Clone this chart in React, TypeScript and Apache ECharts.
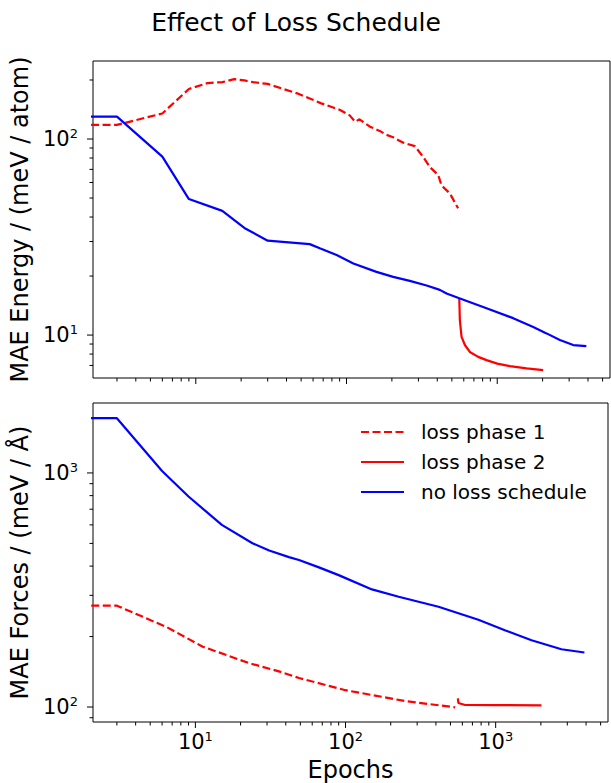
import React, { useEffect, useRef } from 'react';
import * as echarts from 'echarts';

const TITLE = 'Effect of Loss Schedule';
const SERIES_NAMES = ['loss phase 1', 'loss phase 2', 'no loss schedule'];
const X_NAME = 'Epochs';
const ENERGY_NAME = 'MAE Energy / (meV / atom)';
const FORCES_NAME = 'MAE Forces / (meV / Å)';

// Top panel: MAE Energy
const energyPhase1: [number, number][] = [
  [1, 118], [3, 118], [6, 135], [9, 180], [12, 193], [15, 195], [18, 202], [21, 199], [24, 195],
  [30, 191], [38, 180], [47, 171], [57, 161], [68, 152], [79, 146], [90, 141], [105, 132],
  [114, 122.5], [122, 126], [143, 115.6], [166, 110], [184, 105], [204, 102], [238, 95.8],
  [284, 92], [323, 81], [357, 72], [406, 65.5], [427, 58], [485, 52.8], [550, 44.3],
];
const energyPhase2: [number, number][] = [
  [560, 15.4], [565, 11.9], [580, 9.8], [610, 8.9], [658, 8.2], [748, 7.74], [849, 7.45],
  [1000, 7.15], [1213, 6.95], [1567, 6.76], [2018, 6.62],
];
const energyNoSchedule: [number, number][] = [
  [1, 130], [3, 130], [6, 81.3], [9, 49.4], [15, 43], [21, 35.2], [30, 30.3], [57, 29.1],
  [66.5, 27.7], [86, 25.6], [111, 23.2], [158, 21.0], [204, 19.8], [263, 18.9], [340, 17.9],
  [416, 17.0], [461, 16.3], [560, 15.4], [849, 13.7], [1276, 12.2], [1733, 11.0], [2124, 10.2],
  [2604, 9.43], [3193, 8.89], [3900, 8.79],
];

// Bottom panel: MAE Forces
const forcesPhase1: [number, number][] = [
  [1, 271], [3, 271], [6.4, 220], [11.2, 181], [22.8, 154], [36, 142], [49, 133], [100, 118],
  [250, 106], [537, 99.7],
];
const forcesPhase2: [number, number][] = [
  [560, 109], [565, 104], [626, 102], [1000, 101.9], [2018, 101.7],
];
const forcesNoSchedule: [number, number][] = [
  [1, 1714], [3, 1714], [6, 1020], [9, 793], [15, 600], [24, 501], [31, 466], [42, 437],
  [49, 425], [66.5, 395], [90, 366], [150, 318], [226, 296], [416, 268], [767, 236],
  [1151, 213], [1733, 193], [2742, 176.5], [3900, 171],
];

// Axis ranges and tick values
const X_MIN = 2.08;
const X_MAX = 5600;
const ENERGY_MIN = 6.04;
const ENERGY_MAX = 250;
const FORCES_MIN = 86.3;
const FORCES_MAX = 1990;

const X_MAJOR = [10, 100, 1000];
const X_MINOR = [3, 4, 5, 6, 7, 8, 9, 20, 30, 40, 50, 60, 70, 80, 90, 200, 300, 400, 500, 600, 700, 800, 900, 2000, 3000, 4000, 5000];
const ENERGY_Y_MAJOR = [10, 100];
const ENERGY_Y_MINOR = [7, 8, 9, 20, 30, 40, 50, 60, 70, 80, 90, 200];
const FORCES_Y_MAJOR = [100, 1000];
const FORCES_Y_MINOR = [90, 200, 300, 400, 500, 600, 700, 800, 900];

const FONT = 'DejaVu Sans';
const RED = '#ff0000';
const BLUE = '#0000ff';
const LW = 2.2;
const DASH = [8, 3.5];

function tickData(yMin: number, yMajor: number[], yMinor: number[]) {
  return [
    ...X_MAJOR.map((v) => [v, yMin, 0]),
    ...X_MINOR.map((v) => [v, yMin, 1]),
    ...yMajor.map((v) => [X_MIN, v, 2]),
    ...yMinor.map((v) => [X_MIN, v, 3]),
  ];
}

function renderTick(_params: any, api: any) {
  const kind = api.value(2);
  const p = api.coord([api.value(0), api.value(1)]);
  const len = kind === 0 || kind === 2 ? 6 : 3.5;
  const shape =
    kind < 2
      ? { x1: p[0], y1: p[1], x2: p[0], y2: p[1] + len }
      : { x1: p[0] - len, y1: p[1], x2: p[0], y2: p[1] };
  return { type: 'line', shape, style: { stroke: '#000', lineWidth: 1 } };
}

function powLabel(v: number) {
  const l = Math.log10(v);
  const e = Math.round(l);
  if (Math.abs(l - e) > 1e-6) return '';
  return `{b|10}{s|${e}}`;
}

const labelRich = {
  b: { fontSize: 21, lineHeight: 24, fontFamily: FONT, color: '#000' },
  s: { fontSize: 13, lineHeight: 13, verticalAlign: 'top', fontFamily: FONT, color: '#000' },
};

export default function App() {
  const ref = useRef<HTMLDivElement>(null);

  useEffect(() => {
    if (!ref.current) return;
    const chart = echarts.init(ref.current, undefined, { renderer: 'svg' });

    const lineSeries = (name: string, data: [number, number][], idx: number, color: string, dashed: boolean) => ({
      type: 'line',
      name,
      data,
      xAxisIndex: idx,
      yAxisIndex: idx,
      symbol: 'none',
      showSymbol: false,
      clip: true,
      lineStyle: { color, width: LW, type: dashed ? DASH : 'solid' },
      itemStyle: { color },
      emphasis: { disabled: true },
      z: 3,
    });

    const xAxisBase = {
      type: 'log',
      logBase: 10,
      min: X_MIN,
      max: X_MAX,
      axisLine: { show: false },
      axisTick: { show: false },
      splitLine: { show: false },
      minorTick: { show: false },
    };
    const yAxisBase = {
      type: 'log',
      logBase: 10,
      axisLine: { show: false },
      axisTick: { show: false },
      splitLine: { show: false },
      nameLocation: 'middle',
      nameGap: 54,
      nameTextStyle: { fontSize: 24, fontFamily: FONT, color: '#000' },
      axisLabel: { formatter: powLabel, rich: labelRich, margin: 15 },
    };

    chart.setOption({
      animation: false,
      backgroundColor: '#fff',
      graphic: [
        {
          type: 'text',
          x: 296,
          y: 22,
          style: {
            text: TITLE,
            fontSize: 25,
            fontFamily: FONT,
            fill: '#000',
            align: 'center',
            verticalAlign: 'middle',
            textAlign: 'center',
            textVerticalAlign: 'middle',
          },
        },
      ],
      grid: [
        { left: 93, top: 61, width: 517, height: 317, show: true, borderColor: '#000', borderWidth: 1, backgroundColor: 'transparent' },
        { left: 93, top: 403, width: 517, height: 319, show: true, borderColor: '#000', borderWidth: 1, backgroundColor: 'transparent' },
      ],
      xAxis: [
        { ...xAxisBase, gridIndex: 0, axisLabel: { show: false } },
        {
          ...xAxisBase,
          gridIndex: 1,
          name: X_NAME,
          nameLocation: 'middle',
          nameGap: 36,
          nameTextStyle: { fontSize: 24, fontFamily: FONT, color: '#000' },
          axisLabel: { formatter: powLabel, rich: labelRich, margin: 8 },
        },
      ],
      yAxis: [
        { ...yAxisBase, gridIndex: 0, min: ENERGY_MIN, max: ENERGY_MAX, name: ENERGY_NAME },
        { ...yAxisBase, gridIndex: 1, min: FORCES_MIN, max: FORCES_MAX, name: FORCES_NAME },
      ],
      legend: {
        data: SERIES_NAMES,
        orient: 'vertical',
        left: 360,
        top: 422,
        padding: 0,
        itemWidth: 43,
        itemHeight: 14,
        itemGap: 10,
        selectedMode: false,
        itemStyle: { opacity: 0 },
        textStyle: { fontSize: 20, fontFamily: FONT, color: '#000', lineHeight: 20, padding: [0, 0, 0, 12] },
      },
      series: [
        lineSeries(SERIES_NAMES[0], energyPhase1, 0, RED, true),
        lineSeries(SERIES_NAMES[1], energyPhase2, 0, RED, false),
        lineSeries(SERIES_NAMES[2], energyNoSchedule, 0, BLUE, false),
        lineSeries(SERIES_NAMES[0], forcesPhase1, 1, RED, true),
        lineSeries(SERIES_NAMES[1], forcesPhase2, 1, RED, false),
        lineSeries(SERIES_NAMES[2], forcesNoSchedule, 1, BLUE, false),
        {
          type: 'custom',
          name: 'ticks-top',
          xAxisIndex: 0,
          yAxisIndex: 0,
          data: tickData(ENERGY_MIN, ENERGY_Y_MAJOR, ENERGY_Y_MINOR),
          renderItem: renderTick,
          clip: false,
          silent: true,
          z: 5,
        },
        {
          type: 'custom',
          name: 'ticks-bottom',
          xAxisIndex: 1,
          yAxisIndex: 1,
          data: tickData(FORCES_MIN, FORCES_Y_MAJOR, FORCES_Y_MINOR),
          renderItem: renderTick,
          clip: false,
          silent: true,
          z: 5,
        },
      ],
    });

    return () => chart.dispose();
  }, []);

  return <div ref={ref} style={{ position: 'fixed', left: 0, top: 0, width: 611, height: 783, background: '#fff' }} />;
}
